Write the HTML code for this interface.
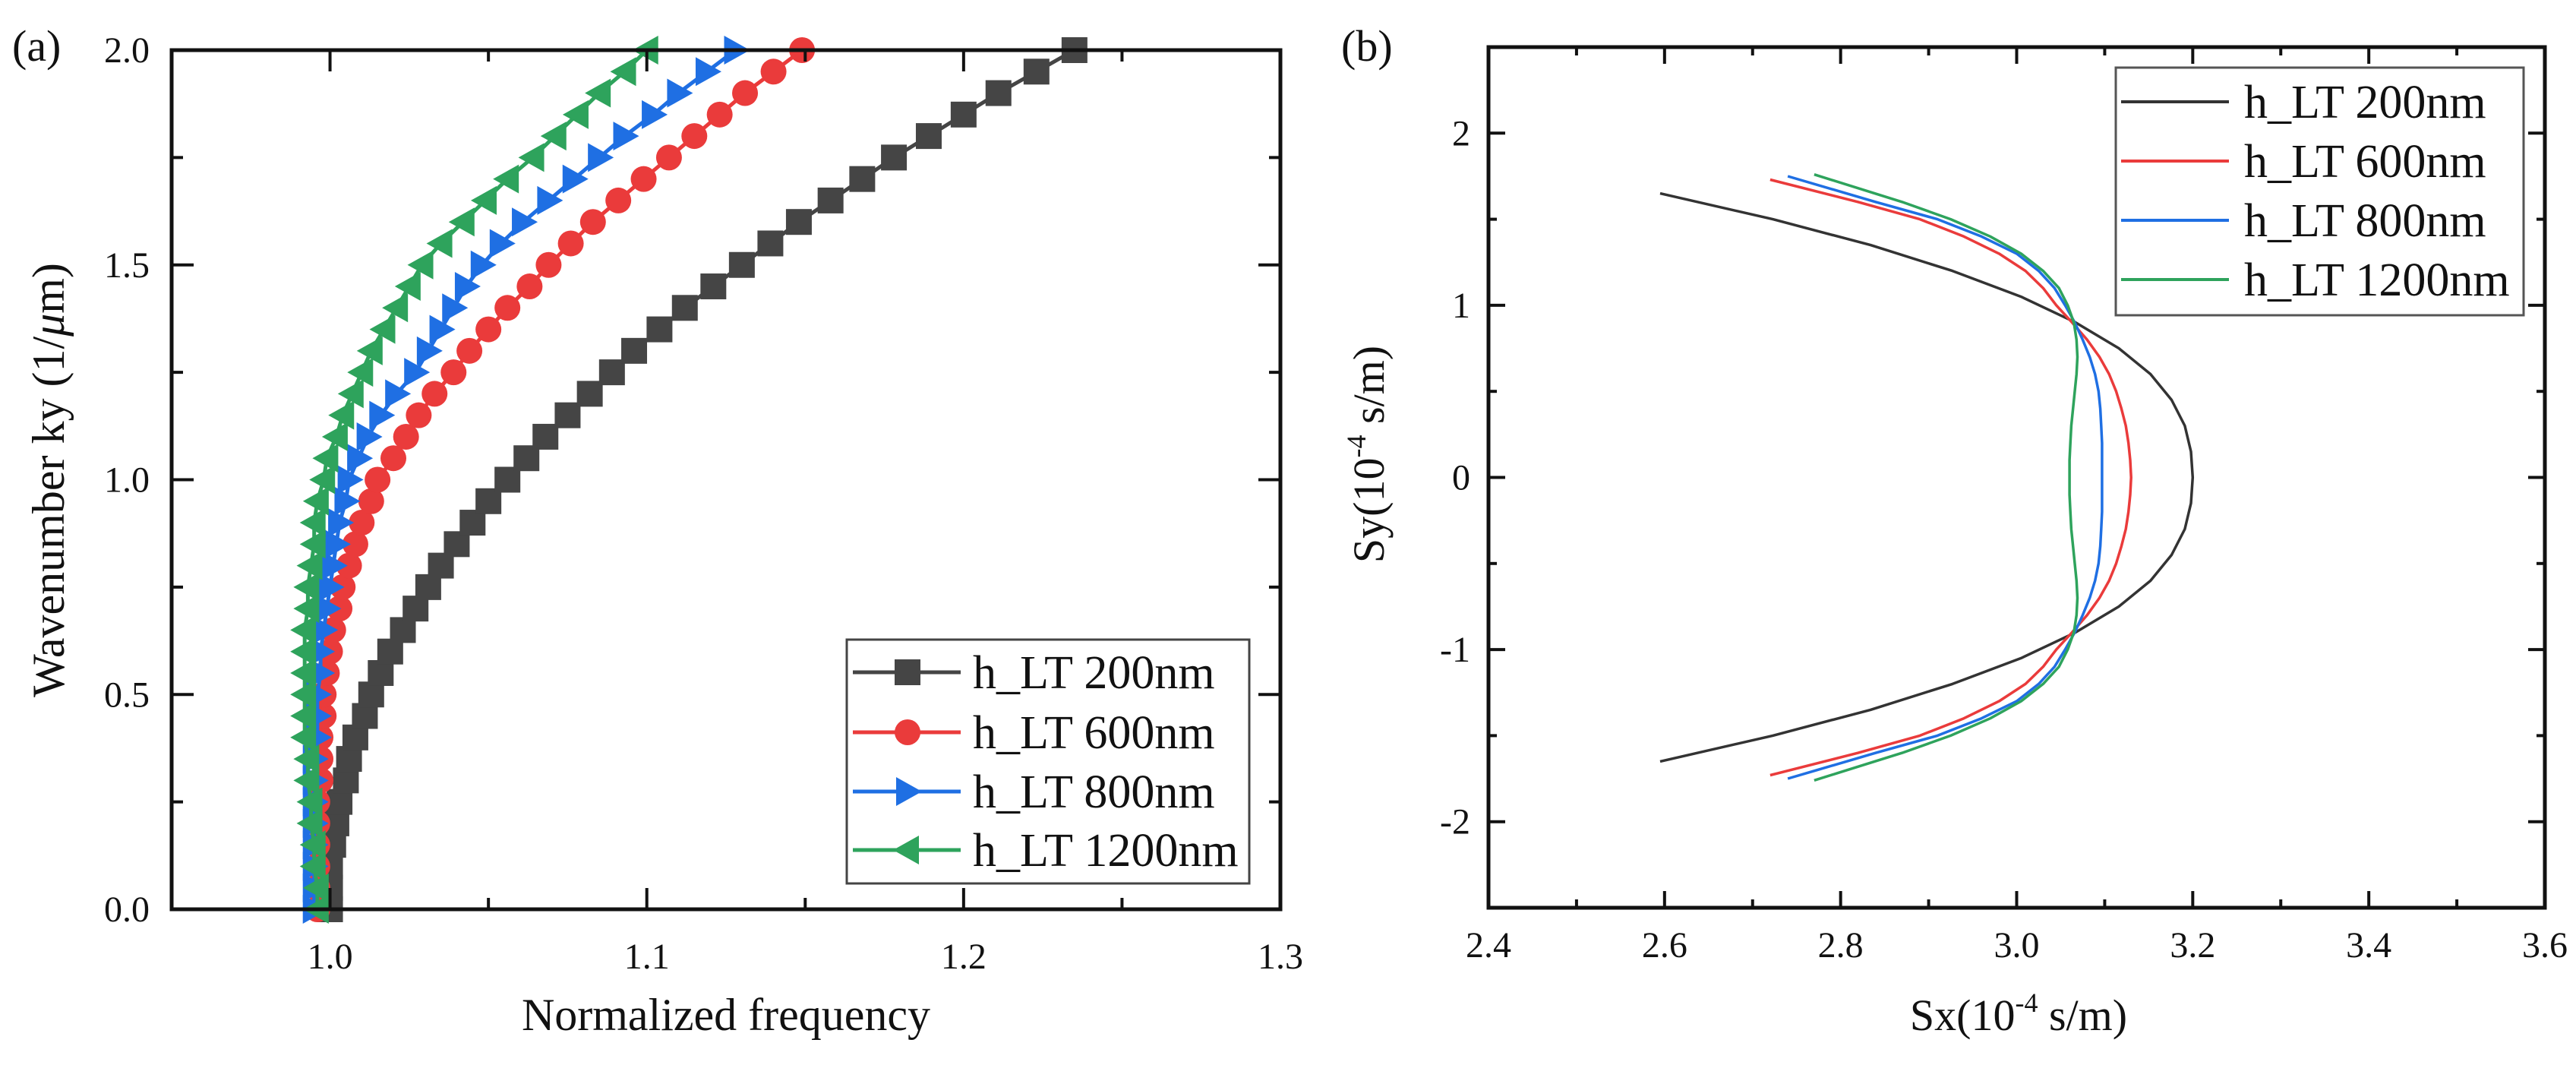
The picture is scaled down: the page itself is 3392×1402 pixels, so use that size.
<!DOCTYPE html>
<html><head><meta charset="utf-8"><style>
html,body{margin:0;padding:0;background:#fff;}
svg{display:block;font-family:"Liberation Serif",serif;}
</style></head><body>
<svg id="fig" width="3392" height="1402" viewBox="0 0 3392 1402" xmlns="http://www.w3.org/2000/svg">
<rect x="0" y="0" width="3392" height="1402" fill="#fff"/>
<g id="pa"></g>
<g id="pb"></g>
</svg>
<script>
// ---------- Panel (a) data ----------
const kyValues = [0,0.05,0.1,0.15,0.2,0.25,0.3,0.35,0.4,0.45,0.5,0.55,0.6,0.65,0.7,0.75,0.8,0.85,0.9,0.95,1.0,1.05,1.1,1.15,1.2,1.25,1.3,1.35,1.4,1.45,1.5,1.55,1.6,1.65,1.7,1.75,1.8,1.85,1.9,1.95,2.0];
const freq200 = [1.000,1.000,1.000,1.001,1.002,1.003,1.005,1.006,1.008,1.011,1.013,1.016,1.019,1.023,1.027,1.031,1.035,1.040,1.045,1.050,1.056,1.062,1.068,1.075,1.082,1.089,1.096,1.104,1.112,1.121,1.130,1.139,1.148,1.158,1.168,1.178,1.189,1.200,1.211,1.223,1.235];
const freq600 = [0.996,0.996,0.996,0.996,0.996,0.996,0.997,0.997,0.997,0.998,0.998,0.999,1.000,1.001,1.003,1.004,1.006,1.008,1.010,1.013,1.015,1.020,1.024,1.028,1.033,1.039,1.044,1.050,1.056,1.063,1.069,1.076,1.083,1.091,1.099,1.107,1.115,1.123,1.131,1.140,1.149];
const freq800 = [0.995,0.995,0.995,0.995,0.995,0.995,0.995,0.995,0.996,0.996,0.996,0.997,0.997,0.998,0.999,1.000,1.001,1.002,1.003,1.005,1.006,1.009,1.012,1.016,1.021,1.027,1.031,1.035,1.039,1.043,1.048,1.054,1.061,1.069,1.077,1.085,1.093,1.102,1.110,1.119,1.128];
const freq1200 = [0.996,0.996,0.995,0.995,0.994,0.994,0.993,0.993,0.992,0.992,0.992,0.992,0.992,0.992,0.993,0.993,0.994,0.995,0.995,0.996,0.998,0.999,1.002,1.004,1.007,1.010,1.013,1.017,1.021,1.025,1.029,1.035,1.042,1.049,1.056,1.064,1.071,1.078,1.085,1.093,1.100];
const aXTicks = ["1.0","1.1","1.2","1.3"];
const aYTicks = ["0.0","0.5","1.0","1.5","2.0"];
const aLegend = ["h_LT 200nm","h_LT 600nm","h_LT 800nm","h_LT 1200nm"];

// ---------- Panel (b) data ----------
const sy200 = [1.65,1.5,1.35,1.2,1.05,0.9,0.75,0.6,0.45,0.3,0.15,0,-0.15,-0.3,-0.45,-0.6,-0.75,-0.9,-1.05,-1.2,-1.35,-1.5,-1.65];
const sx200 = [2.595,2.723,2.834,2.927,3.005,3.067,3.116,3.152,3.176,3.191,3.198,3.2,3.198,3.191,3.176,3.152,3.116,3.067,3.005,2.927,2.834,2.723,2.595];
const sy600 = [1.73,1.6,1.5,1.4,1.3,1.2,1.1,1.0,0.9,0.8,0.7,0.6,0.5,0.4,0.3,0.2,0.1,0,-0.1,-0.2,-0.3,-0.4,-0.5,-0.6,-0.7,-0.8,-0.9,-1.0,-1.1,-1.2,-1.3,-1.4,-1.5,-1.6,-1.73];
const sx600 = [2.72,2.82,2.89,2.94,2.98,3.01,3.03,3.045,3.063,3.08,3.094,3.105,3.113,3.119,3.124,3.127,3.129,3.13,3.129,3.127,3.124,3.119,3.113,3.105,3.094,3.08,3.063,3.045,3.03,3.01,2.98,2.94,2.89,2.82,2.72];
const sy800 = [1.75,1.6,1.5,1.4,1.3,1.2,1.1,1.0,0.9,0.8,0.7,0.6,0.5,0.4,0.3,0.2,0.1,0,-0.1,-0.2,-0.3,-0.4,-0.5,-0.6,-0.7,-0.8,-0.9,-1.0,-1.1,-1.2,-1.3,-1.4,-1.5,-1.6,-1.75];
const sx800 = [2.74,2.84,2.91,2.96,3.0,3.025,3.043,3.055,3.066,3.075,3.083,3.089,3.093,3.095,3.096,3.097,3.097,3.097,3.097,3.097,3.096,3.095,3.093,3.089,3.083,3.075,3.066,3.055,3.043,3.025,3.0,2.96,2.91,2.84,2.74];
const sy1200 = [1.76,1.6,1.5,1.4,1.3,1.2,1.1,1.0,0.9,0.8,0.7,0.6,0.5,0.4,0.3,0.2,0.1,0,-0.1,-0.2,-0.3,-0.4,-0.5,-0.6,-0.7,-0.8,-0.9,-1.0,-1.1,-1.2,-1.3,-1.4,-1.5,-1.6,-1.76];
const sx1200 = [2.77,2.87,2.925,2.97,3.005,3.03,3.048,3.058,3.065,3.068,3.069,3.068,3.066,3.064,3.062,3.061,3.06,3.06,3.06,3.061,3.062,3.064,3.066,3.068,3.069,3.068,3.065,3.058,3.048,3.03,3.005,2.97,2.925,2.87,2.77];
const bXTicks = ["2.4","2.6","2.8","3.0","3.2","3.4","3.6"];
const bYTicks = ["-2","-1","0","1","2"];

const NS="http://www.w3.org/2000/svg";
function mk(parent,tag,attrs,text){const e=document.createElementNS(NS,tag);for(const k in attrs)e.setAttribute(k,attrs[k]);if(text!==undefined)e.textContent=text;parent.appendChild(e);return e;}
const C={k:"#454545",r:"#ea3b3b",b:"#1f6fe3",g:"#2ea35c"};

// ================= PANEL A =================
const pa=document.getElementById('pa');
const A={l:226,r:1686,t:66,b:1197,x0:0.95,x1:1.3,y0:0,y1:2};
const ax=v=>A.l+(v-A.x0)/(A.x1-A.x0)*(A.r-A.l);
const ay=v=>A.b-(v-A.y0)/(A.y1-A.y0)*(A.b-A.t);

function drawSeriesA(xs,col,shape,name){
  const g=mk(pa,'g',{});
  
  
  const pts=xs.map((v,i)=>ax(v).toFixed(1)+','+ay(kyValues[i]).toFixed(1)).join(' ');
  const pl=mk(g,'polyline',{points:pts,fill:'none',stroke:col,'stroke-width':5});
  
  
  xs.forEach((v,i)=>{
    const m=marker(g,shape,ax(v),ay(kyValues[i]),col);
    
    
  });
}
function marker(g,shape,x,y,col){
  const s=17;
  if(shape==='sq') return mk(g,'rect',{x:x-s,y:y-s,width:2*s,height:2*s,fill:col});
  if(shape==='ci') return mk(g,'circle',{cx:x,cy:y,r:s,fill:col});
  if(shape==='tr') return mk(g,'polygon',{points:`${x+s+2},${y} ${x-s+2},${y-s-2} ${x-s+2},${y+s+2}`,fill:col});
  return mk(g,'polygon',{points:`${x-s-2},${y} ${x+s-2},${y-s-2} ${x+s-2},${y+s+2}`,fill:col});
}
const clipA=mk(pa,'clipPath',{id:'clipA'});
mk(clipA,'rect',{x:A.l-40,y:A.t-40,width:A.r-A.l+80,height:A.b-A.t+40});
const dataA=mk(pa,'g',{'clip-path':'url(#clipA)'});
const paRef=pa;
(function(){const hold=pa;})();
// draw series into pa but clip via wrapper
function drawAll(){
  const save=pa;
  drawSeriesA(freq200,C.k,'sq','series-200nm');
  drawSeriesA(freq600,C.r,'ci','series-600nm');
  drawSeriesA(freq800,C.b,'tr','series-800nm');
  drawSeriesA(freq1200,C.g,'tl','series-1200nm');
}
drawAll();
// axes frame
const frA=mk(pa,'rect',{x:A.l,y:A.t,width:A.r-A.l,height:A.b-A.t,fill:'none',stroke:'#111','stroke-width':5});


// x ticks
for(let v=1.0;v<=1.3001;v+=0.05){
  const major=Math.abs(Math.round(v*10)-v*10)<1e-6;
  const L=major?28:15,x=ax(v);
  mk(pa,'line',{x1:x,y1:A.b,x2:x,y2:A.b-L,stroke:'#111','stroke-width':4});
  mk(pa,'line',{x1:x,y1:A.t,x2:x,y2:A.t+L,stroke:'#111','stroke-width':4});
}
aXTicks.forEach(t=>{
  const e=mk(pa,'text',{x:ax(parseFloat(t)),y:1275,'font-size':48,'text-anchor':'middle',fill:'#111'},t);
  
  
});
for(let v=0;v<=2.0001;v+=0.25){
  const major=Math.abs(v*2-Math.round(v*2))<1e-6;
  const L=major?29:15,y=ay(v);
  mk(pa,'line',{x1:A.l,y1:y,x2:A.l+L,y2:y,stroke:'#111','stroke-width':4});
  mk(pa,'line',{x1:A.r,y1:y,x2:A.r-L,y2:y,stroke:'#111','stroke-width':4});
}
aYTicks.forEach(t=>{
  const e=mk(pa,'text',{x:197,y:ay(parseFloat(t))+16,'font-size':48,'text-anchor':'end',fill:'#111'},t);
  
  
});
let e=mk(pa,'text',{x:956,y:1356,'font-size':60,'text-anchor':'middle',fill:'#111'},'Normalized frequency');


e=mk(pa,'text',{x:0,y:0,'font-size':60,'text-anchor':'middle',fill:'#111',transform:'translate(84,632) rotate(-90)'});


e.innerHTML='Wavenumber ky (1/<tspan font-style="italic">μ</tspan>m)';
e=mk(pa,'text',{x:16,y:80,'font-size':58,fill:'#111'},'(a)');


// legend a
const lgA=mk(pa,'g',{});


mk(lgA,'rect',{x:1115,y:842,width:530,height:321,fill:'#fff',stroke:'#444','stroke-width':3});
const legRowsA=[885,964,1042,1119],legCols=[C.k,C.r,C.b,C.g],legShapes=['sq','ci','tr','tl'];
aLegend.forEach((t,i)=>{
  const g=mk(lgA,'g',{});
  
  
  mk(g,'line',{x1:1123,y1:legRowsA[i],x2:1265,y2:legRowsA[i],stroke:legCols[i],'stroke-width':5});
  marker(g,legShapes[i],1195,legRowsA[i],legCols[i]);
  mk(g,'text',{x:1281,y:legRowsA[i]+21,'font-size':62,fill:'#111'},t);
});

// ================= PANEL B =================
const pb=document.getElementById('pb');
const B={l:1960,r:3351,t:62,b:1195,x0:2.4,x1:3.6,y0:-2.5,y1:2.5};
const bx=v=>B.l+(v-B.x0)/(B.x1-B.x0)*(B.r-B.l);
const by=v=>B.b-(v-B.y0)/(B.y1-B.y0)*(B.b-B.t);
function drawSeriesB(xs,ys,col,name){
  const pts=xs.map((v,i)=>bx(v).toFixed(1)+','+by(ys[i]).toFixed(1)).join(' ');
  const pl=mk(pb,'polyline',{points:pts,fill:'none',stroke:col,'stroke-width':3.5,'stroke-linejoin':'round'});
  
  
}
drawSeriesB(sx200,sy200,'#333','curve-200nm');
drawSeriesB(sx600,sy600,C.r,'curve-600nm');
drawSeriesB(sx800,sy800,C.b,'curve-800nm');
drawSeriesB(sx1200,sy1200,C.g,'curve-1200nm');
const frB=mk(pb,'rect',{x:B.l,y:B.t,width:B.r-B.l,height:B.b-B.t,fill:'none',stroke:'#111','stroke-width':5});


for(let i=0;i<=12;i++){
  const v=2.4+i*0.1,L=(i%2===0)?22:11,x=bx(v);
  mk(pb,'line',{x1:x,y1:B.b,x2:x,y2:B.b-L,stroke:'#111','stroke-width':4});
  mk(pb,'line',{x1:x,y1:B.t,x2:x,y2:B.t+L,stroke:'#111','stroke-width':4});
}
bXTicks.forEach(t=>{
  const e=mk(pb,'text',{x:bx(parseFloat(t)),y:1260,'font-size':48,'text-anchor':'middle',fill:'#111'},t);
  
  
});
for(let i=0;i<=10;i++){
  const v=-2.5+i*0.5,L=(i%2===1)?22:11,y=by(v);
  mk(pb,'line',{x1:B.l,y1:y,x2:B.l+L,y2:y,stroke:'#111','stroke-width':4});
  mk(pb,'line',{x1:B.r,y1:y,x2:B.r-L,y2:y,stroke:'#111','stroke-width':4});
}
bYTicks.forEach(t=>{
  const e=mk(pb,'text',{x:1936,y:by(parseFloat(t))+16,'font-size':48,'text-anchor':'end',fill:'#111'},t);
  
  
});
e=mk(pb,'text',{x:2658,y:1356,'font-size':58,'text-anchor':'middle',fill:'#111'});


e.innerHTML='Sx(10<tspan font-size="36" dy="-24">-4</tspan><tspan dy="24"> s/m)</tspan>';
e=mk(pb,'text',{x:0,y:0,'font-size':58,'text-anchor':'middle',fill:'#111',transform:'translate(1822,598) rotate(-90)'});


e.innerHTML='Sy(10<tspan font-size="36" dy="-24">-4</tspan><tspan dy="24"> s/m)</tspan>';
e=mk(pb,'text',{x:1766,y:80,'font-size':58,fill:'#111'},'(b)');


const lgB=mk(pb,'g',{});


mk(lgB,'rect',{x:2786,y:89,width:537,height:326,fill:'#fff',stroke:'#555','stroke-width':3});
const legRowsB=[134,212,290,368],legColsB=['#333',C.r,C.b,C.g];
aLegend.forEach((t,i)=>{
  const g=mk(lgB,'g',{});
  
  
  mk(g,'line',{x1:2793,y1:legRowsB[i],x2:2935,y2:legRowsB[i],stroke:legColsB[i],'stroke-width':4});
  mk(g,'text',{x:2955,y:legRowsB[i]+21,'font-size':62,fill:'#111'},t);
});
</script>
</body></html>
